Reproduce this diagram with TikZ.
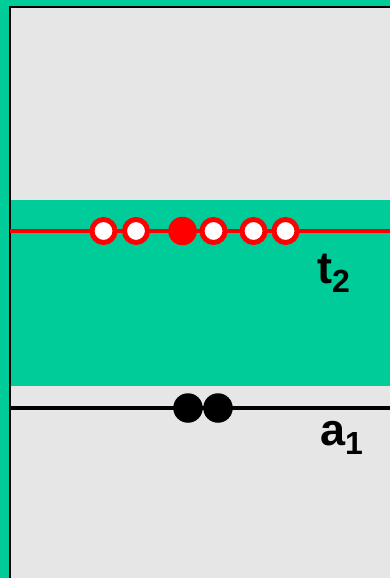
\documentclass[tikz,border=0pt]{standalone}
\usepackage{fontspec}
\setmainfont{Liberation Sans}
\definecolor{bandgreen}{RGB}{0,204,153}
\definecolor{panelgrey}{RGB}{230,230,230}
\begin{document}
\begin{tikzpicture}[x=1pt,y=-1pt,
  hollow/.style={circle,draw=red,fill=white,line width=5pt,minimum size=23pt,inner sep=0pt},
  solidred/.style={circle,fill=red,minimum size=28.5pt,inner sep=0pt},
  solidblack/.style={circle,fill=black,minimum size=29.5pt,inner sep=0pt},
  lbl/.style={anchor=base west,inner sep=0pt,font=\fontsize{45}{45}\selectfont\bfseries}]
\useasboundingbox (0,0) rectangle (390,578);
\fill[bandgreen] (0,0) rectangle (390,578);
\fill[panelgrey] (10,7) rectangle (390,578);
\fill[bandgreen] (10,200) rectangle (390,386);
\draw[line width=2pt] (10,578) -- (10,7) -- (390,7);
% red line with circles
\coordinate (rl) at (10,231);
\coordinate (rr) at (390,231);
\draw[red,line width=3.5pt] (rl) -- (rr);
\node[hollow] (c1) at (103.5,231) {};
\node[hollow] (c2) at (136,231) {};
\node[solidred] (c3) at (182.5,231) {};
\node[hollow] (c4) at (213.5,231) {};
\node[hollow] (c5) at (253.5,231) {};
\node[hollow] (c6) at (285.5,231) {};
% black line with dots
\coordinate (bl) at (10,408);
\coordinate (br) at (390,408);
\draw[line width=4pt] (bl) -- (br);
\node[solidblack] (d1) at (188,408) {};
\node[solidblack] (d2) at (218,408) {};
% labels
\node[lbl] (t2) at (317,283) {t\raisebox{-9pt}{\fontsize{32}{32}\selectfont\bfseries 2}};
\node[lbl] (a1) at (320,445) {a\raisebox{-9pt}{\fontsize{32}{32}\selectfont\bfseries 1}};
\end{tikzpicture}
\end{document}
